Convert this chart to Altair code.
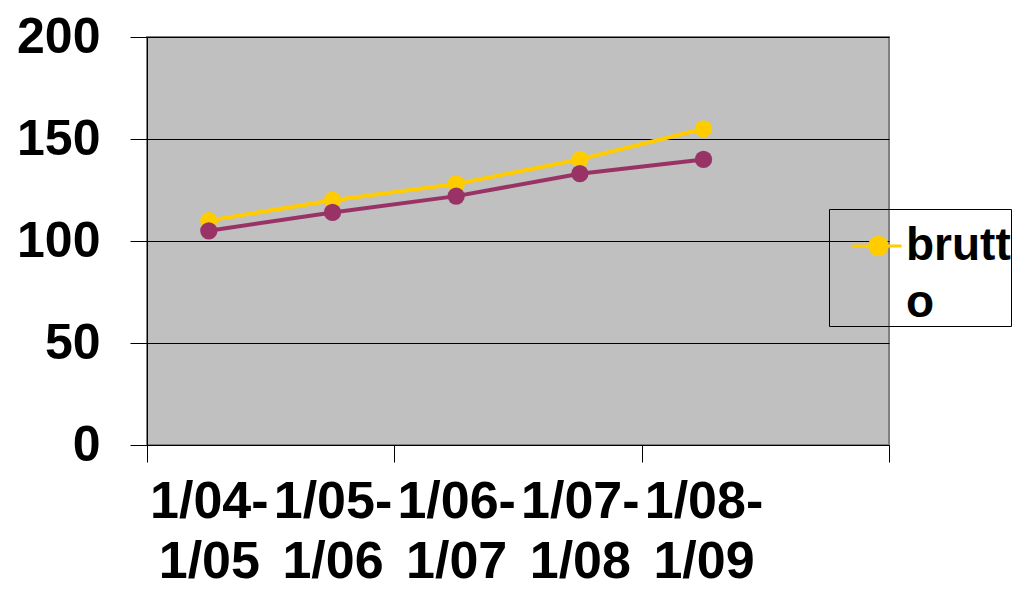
import altair as alt
import pandas as pd

periods = ["1/04-1/05", "1/05-1/06", "1/06-1/07", "1/07-1/08", "1/08-1/09"]
brutto = [110, 120, 128, 140, 155]
netto = [105, 114, 122, 133, 140]
series_names = ["brutto", "netto"]
colors = ["#FFCC00", "#993366"]
y_ticks = [0, 50, 100, 150, 200]
x_tick_marks = [0, 2, 4, 6]
n_slots = 6

rows = []
for i, p in enumerate(periods):
    rows.append({"period": p, "pos": i + 0.5, "series": "brutto", "value": brutto[i]})
    rows.append({"period": p, "pos": i + 0.5, "series": "netto", "value": netto[i]})
df = pd.DataFrame(rows)

label_positions = [i + 0.5 for i in range(len(periods))]
label_expr = " : ".join(
    f"datum.value == {i + 0.5} ? ['{p[:5]}', '{p[5:]}']" for i, p in enumerate(periods)
) + " : ''"

FONT = "Liberation Sans"
FS = 52

x_scale = alt.Scale(domain=[0, n_slots], nice=False, zero=False)
y_enc = alt.Y(
    "value:Q",
    scale=alt.Scale(domain=[0, 200], nice=False),
    axis=alt.Axis(
        values=y_ticks, title=None, grid=True, gridColor="black", gridWidth=1,
        tickSize=17, tickColor="black", domainColor="black", labelPadding=30,
        labelFont=FONT, labelFontSize=50, labelFontWeight="bold", labelColor="black",
    ),
)

lines = alt.Chart(df).mark_line(
    strokeWidth=4, point=alt.OverlayMarkDef(size=300, filled=True, opacity=1)
).encode(
    x=alt.X(
        "pos:Q", scale=x_scale,
        axis=alt.Axis(
            orient="bottom", values=label_positions, labelExpr=label_expr, ticks=False,
            grid=False, title=None, domainColor="black", labelPadding=31,
            labelFont=FONT, labelFontSize=FS, labelFontWeight="bold", labelColor="black",
            labelLineHeight=60, labelBaseline="top", labelFlush=False,
        ),
    ),
    y=y_enc,
    color=alt.Color(
        "series:N",
        scale=alt.Scale(domain=series_names, range=colors),
        legend=alt.Legend(
            title=None, orient="none", legendX=682, legendY=172, values=["brutto"],
            labelExpr="['brutt', 'o']", labelFont=FONT, labelFontSize=46,
            labelFontWeight="bold", labelColor="black",
            labelLimit=0, strokeColor="black", padding=0, labelOffset=3,
            symbolType="M-0.41,0H1M0.6,0A0.25,0.25 0 1,1 0.1,0A0.25,0.25 0 1,1 0.6,0Z",
            symbolSize=5041, symbolStrokeWidth=3, symbolFillColor="#FFCC00",
        ),
    ),
    detail="series:N",
)

ticks_layer = alt.Chart(df).mark_point(opacity=0).encode(
    x=alt.X(
        "pos:Q", scale=x_scale,
        axis=alt.Axis(
            orient="bottom", values=x_tick_marks, labels=False, ticks=True, tickSize=17,
            tickColor="black", domain=False, grid=False, title=None,
        ),
    ),
    y=y_enc,
)

chart = alt.layer(lines, ticks_layer).resolve_axis(x="independent").properties(
    width=742, height=408,
    autosize=alt.AutoSizeParams(type="none"),
    padding={"left": 139, "top": 29, "right": 127, "bottom": 147},
).configure(
    style={"guide-label": {"lineHeight": 57}}
).configure_view(fill="#C0C0C0", stroke="#808080", strokeWidth=2)

chart.save("out.html", embed_options={"renderer": "svg", "actions": False})
